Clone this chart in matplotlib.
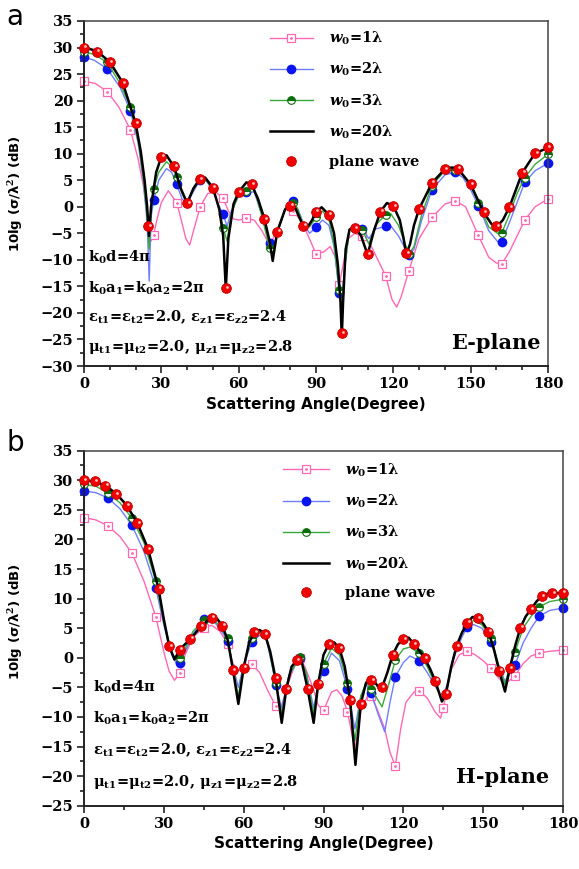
import matplotlib
matplotlib.use("Agg")
import matplotlib.pyplot as plt
from matplotlib.legend_handler import HandlerTuple
from matplotlib.ticker import MultipleLocator
from matplotlib.transforms import offset_copy

plt.rcParams['mathtext.fontset'] = 'custom'
plt.rcParams['mathtext.rm'] = 'DejaVu Serif:bold'
plt.rcParams['mathtext.it'] = 'DejaVu Serif:italic:bold'
plt.rcParams['mathtext.bf'] = 'DejaVu Serif:bold'

# ---------------- E-plane (panel a) ----------------
e_black_ang = [0, 5, 10, 15, 20, 22, 23.5, 24.5, 25.2, 26, 28, 30, 32, 35, 37.5, 40, 42.5, 45, 47, 50,
               52.5, 54, 55, 56, 58, 60, 63, 65, 67.5, 70, 72, 73.2, 75, 78, 80, 82, 85, 86.5, 88.5, 90,
               92.2, 95, 97, 98.5, 99.5, 100, 100.5, 101.5, 103, 105, 107.5, 110, 112.5, 115, 117.5, 120,
               122.5, 124, 125, 126.5, 128, 130, 135, 140, 142.5, 145, 150, 155, 158, 160, 162.5, 165,
               170, 175, 180]
e_black_db = [30.1, 29.3, 27.3, 23.4, 15.8, 10.5, 5, 0, -5.5, 0, 6.5, 9.4, 9.7, 7.5, 3.5, 0.7, 3.5, 5.3,
              5.5, 3.6, -0.5, -5.5, -15.5, -6, 0.5, 2.8, 4.6, 4.2, 1.5, -2.3, -6.5, -10.2, -4.6, -0.5,
              0.3, -0.3, -3.6, -4.0, -2.5, -0.9, -0.1, -1.5, -5, -11, -18, -24.5, -18, -8, -4.3, -3.8,
              -5.5, -9.0, -4.5, -0.9, 0.7, 0.2, -2.5, -6, -9.0, -7, -3.5, -0.4, 4.5, 7.1, 7.4, 7.2,
              4.2, -1.0, -3.2, -3.8, -2.5, -0.1, 6.4, 10.1, 11.1]

e_blue_ang = [0, 4, 9, 14, 18, 21, 23, 24.5, 25.3, 26, 27, 29, 32, 34, 36, 38, 40, 42, 45, 47, 50, 52,
              54, 55.5, 57, 60, 63, 66, 69, 72, 73.2, 75, 78, 81, 83, 85, 87.5, 90, 92.5, 95, 97, 99,
              100, 101, 103, 105, 108, 110.5, 113, 117, 119, 122, 126, 128, 131, 135, 140, 144, 147,
              150, 153, 157, 161, 162, 165, 168, 171, 175, 180]
e_blue_db = [28.2, 27.6, 26.0, 22.5, 18.1, 12, 5, -3, -14, -2, 1.2, 5, 7.2, 6.5, 4.2, 1.5, 0.5, 2.5,
             5.0, 5.2, 3.0, 0.5, -1.4, -3.7, -1, 2.0, 2.7, 2.8, -1.5, -6.9, -8, -5, -0.5, 1.1, -0.5,
             -3, -5, -3.9, -2.5, -3.5, -7.5, -16.2, -18, -12, -4.2, -3.5, -4.1, -6, -4.2, -3.7, -3.6,
             -5.5, -9.1, -8, -2.5, 3.2, 6.0, 6.5, 5.5, 3.2, 0.2, -4.5, -6.9, -6.7, -3.0, 0.8, 4.6,
             6.8, 8.2]

e_green_ang = e_blue_ang
e_green_db = [29.2, 28.7, 27.2, 23.2, 18.8, 12.5, 5.5, -2, -8, -1, 3.4, 6.5, 8.5, 7.5, 5.7, 2.5, 0.6,
              3.0, 5.2, 5.3, 3.3, 0.5, -4.0, -6.5, -1.5, 2.4, 3.0, 3.5, -1.8, -7.8, -9, -5, -0.5, 0.8,
              -0.5, -3.3, -3.8, -2.0, -0.8, -2.3, -7, -15.7, -19, -12, -4.3, -3.7, -4.4, -7, -3.5,
              -1.5, -1.3, -3.5, -8.9, -7.5, -1.5, 4.0, 6.8, 7.0, 6.0, 3.8, 0.8, -3.8, -5.2, -5.0,
              -1.5, 2.5, 5.5, 8.0, 9.9]

e_pink_ang = [0, 4.5, 9, 13.5, 18, 21, 23, 24.5, 26, 27, 28.5, 30, 32.7, 36, 38, 39.5, 41, 42.5, 45,
              48, 51, 54, 56, 58, 60, 63, 66, 69, 72, 75, 78, 81, 84, 87, 90, 93, 95.5, 97.5, 99,
              100.5, 102.5, 105, 108, 111, 114, 117, 119.5, 121.3, 123, 126, 130, 135, 140, 144, 148,
              153, 157, 160, 162, 165, 168, 171, 175, 180]
e_pink_db = [23.7, 23.2, 21.7, 18.8, 14.5, 9, 4, -1.5, -6.5, -5.3, -2, 0.8, 3.0, 0.8, -3, -6, -7.2,
             -4.5, -0.1, 2.5, 2.8, 1.6, -0.8, -2.3, -2.5, -2.2, -2.5, -4.5, -7.2, -4.5, -0.5, -0.8,
             -2.5, -5.5, -8.9, -8.5, -7.5, -9.5, -14.7, -11, -6, -5, -5.6, -7, -10, -13, -17.5,
             -18.9, -17, -12.1, -6, -2.0, 0.5, 1.15, 0, -5.4, -9.5, -10.6, -10.8, -8.5, -5.5, -2.5,
             0, 1.5]

e_pw_ang = [0, 5, 10, 15, 20, 25, 30, 35, 40, 45, 50, 55, 60, 65, 70, 75, 80, 85, 90, 95, 100, 105,
            110, 115, 120, 125, 130, 135, 140, 145, 150, 155, 160, 165, 170, 175, 180]
e_pw_db = [30.0, 29.2, 27.2, 23.3, 15.7, -3.7, 9.4, 7.6, 0.7, 5.2, 3.6, -15.3, 2.7, 4.2, -2.3, -4.7,
           0.2, -3.6, -0.9, -1.5, -23.8, -4.0, -8.9, -0.9, 0.15, -8.8, -0.4, 4.5, 7.1, 7.2, 4.2,
           -1.0, -3.7, -0.1, 6.4, 10.1, 11.2]

# ---------------- H-plane (panel b) ----------------
h_black_ang = [0, 4, 8, 12, 16, 20, 24, 28, 30, 32, 34, 36, 40, 44, 48, 50, 52, 54, 56, 58, 60, 62,
               64, 66, 68, 70, 72, 74.3, 76, 78, 80, 81.5, 84, 86.3, 88, 90, 92, 94, 96, 98, 100, 102,
               104, 106, 108.5, 111, 112, 114, 116, 118, 120, 122, 124, 126, 128, 130, 132, 134.5,
               136, 138, 140, 142, 144, 146, 148, 150, 152, 154, 156, 158.2, 160, 162, 164, 166, 168,
               170, 172, 174, 176, 180]
h_black_db = [30.0, 29.8, 29.1, 27.8, 25.8, 22.8, 18.5, 11.7, 6.5, 2.0, -0.3, 1.4, 3.2, 5.3, 6.9, 6.6,
              5.4, 3.0, -2.1, -7.8, -1.7, 2.5, 4.3, 4.7, 4.0, 1.0, -3.5, -11, -5.3, -1.5, -0.4, 0.0,
              -5.2, -11, -4.4, 0.5, 2.3, 2.6, 1.6, -1.5, -7.2, -18.1, -7.8, -4.2, -3.6, -5.2, -5.0,
              -2.5, 0.5, 2.3, 3.1, 3.4, 2.3, 1.2, -0.1, -1.8, -3.9, -7.4, -6.1, -1.5, 2.0, 4.2, 5.9,
              6.9, 6.7, 5.8, 4.4, 1.5, -2.2, -5.7, -1.8, 2.0, 5.1, 7.0, 8.2, 9.5, 10.4, 10.8, 10.9,
              11.0]

h_blue_ang = [0, 4.5, 9, 13.5, 18, 22.5, 27, 30, 33, 35, 36, 38, 41, 45, 48, 51, 54, 56, 58, 60, 63,
              66, 68.5, 71, 72, 74.3, 77, 81, 83.5, 86.3, 88, 90, 93, 96, 99, 101.8, 104, 106, 108,
              110.5, 113, 115, 117, 120, 122.5, 126, 129, 132, 134.5, 136.5, 139, 142, 144, 146.5,
              149.5, 153, 156, 158.2, 160, 162, 165, 168, 171, 175, 180]
h_blue_db = [28.2, 27.9, 27.0, 25.2, 22.4, 18, 11.8, 5.5, 0.5, -1.2, -0.8, 1.0, 4.0, 6.6, 6.5, 5.0,
             2.9, -1.5, -5.0, -1.2, 2.6, 3.8, 3.2, -2.0, -4.6, -8.5, -3, -0.1, -2.5, -8.5, -4.5, -2.3,
             0.8, -0.5, -5.2, -12, -6.5, -4.5, -6.0, -9.5, -12.5, -7.5, -3.2, -0.8, 0.3, -0.5, -2.5,
             -4.8, -6.8, -4.5, 0, 3.5, 5.2, 5.6, 5.0, 2.6, -1.5, -4.0, -2.5, -1.2, 2.5, 5.0, 7.0,
             8.0, 8.4]

h_green_ang = [0, 4.5, 9, 13.5, 18, 22.5, 27, 30, 33, 35, 36, 38, 41, 45, 48, 51, 54, 56, 58, 60, 63,
               66, 68.5, 71, 72, 74.3, 77, 81, 83.5, 86.3, 88, 90, 93, 96, 99, 101.8, 104, 106, 108,
               110, 112, 114.5, 117, 120, 122.5, 126, 129, 132, 134.5, 136.5, 139, 142, 144, 146.5,
               149.5, 153, 156, 158.2, 160, 162, 165, 168, 171, 175, 180]
h_green_db = [29.3, 29.0, 27.8, 26.2, 23.6, 19.5, 12.9, 6, 0.8, -0.4, -0.1, 1.5, 4.5, 6.4, 6.7, 5.4,
              3.3, -1.8, -6.5, -1.2, 3.3, 4.3, 3.7, -2.0, -4.3, -9.5, -3, 0.1, -2.5, -9.5, -4.0, -1.0,
              1.6, 0.5, -4.2, -14, -6.5, -4.2, -5.2, -6.8, -8.3, -4.5, -0.4, 1.5, 1.8, 0.75, -1.5,
              -4.5, -7.0, -5.0, 0.5, 4.3, 5.8, 6.3, 5.6, 3.3, -1.5, -4.5, -1.5, 1.0, 5.0, 7.0, 8.6,
              9.5, 9.9]

h_pink_ang = [0, 4.5, 9, 13.5, 18, 22.5, 27, 30, 32, 34, 36, 38, 41, 45, 48, 51, 54, 56, 58, 60, 63,
              66, 69, 72, 74, 77, 80, 81, 83, 86, 88, 90, 93, 95, 97, 99, 101.8, 104, 107, 108, 110,
              113, 115, 117, 119, 121, 124, 126, 129, 132, 134, 135, 138, 141, 144, 147, 150, 153,
              156, 158, 160, 162, 165, 168, 171, 175, 180]
h_pink_db = [23.7, 23.3, 22.3, 20.5, 17.7, 13, 6.9, 1.0, -2.3, -3.8, -2.6, 0.5, 3.5, 5.1, 5.5, 4.5,
             2.4, -1.0, -2.2, -1.8, -1.1, -2.5, -5.5, -8.1, -8.5, -4.0, -0.3, -0.1, -1.5, -5.0, -8.0,
             -8.9, -5.8, -5.4, -6.5, -9.1, -15.5, -9, -6.0, -6.5, -8.5, -12, -16, -18.3, -12, -7.5,
             -5.8, -5.6, -6.8, -9.2, -10.2, -8.5, -2.0, 0.5, 1.15, 0.5, -0.5, -1.8, -3.5, -4.3, -3.8,
             -3.0, -1.0, 0.3, 0.8, 1.1, 1.3]

h_pw_ang = [0, 4, 8, 12, 16, 20, 24, 28, 32, 36, 40, 44, 48, 52, 56, 60, 64, 68, 72, 76, 80, 84, 88,
            92, 96, 100, 104, 108, 112, 116, 120, 124, 128, 132, 136, 140, 144, 148, 152, 156, 160,
            164, 168, 172, 176, 180]
h_pw_db = [30.0, 29.8, 29.1, 27.7, 25.7, 22.7, 18.4, 11.7, 2.0, 1.4, 3.2, 5.3, 6.8, 5.4, -2.1, -1.7,
           4.3, 4.0, -3.5, -5.3, -0.4, -5.2, -4.4, 2.3, 1.6, -7.2, -7.8, -3.8, -5.0, 0.5, 3.1, 2.3,
           -0.1, -3.9, -6.1, 2.0, 5.9, 6.7, 4.4, -2.2, -1.8, 5.1, 8.2, 10.4, 10.9, 11.0]

marker_ang = [0, 9, 18, 27, 36, 45, 54, 63, 72, 81, 90, 99, 108, 117, 126, 135, 144, 153, 162, 171, 180]

labels = [r'$\mathit{w}_{0}$=1λ', r'$\mathit{w}_{0}$=2λ', r'$\mathit{w}_{0}$=3λ',
          r'$\mathit{w}_{0}$=20λ', 'plane wave']

PINK = '#ff69b4'
BLUE_L = '#6f7dff'
BLUE_M = '#0a14f0'
GREEN_L = '#3aa83a'
GREEN_M = '#0b6e0b'
RED = '#f00000'
SERIF = 'DejaVu Serif'
SANS = 'DejaVu Sans'


def marks(ang):
    return [i for i, a in enumerate(ang) if a in marker_ang]


def panel(ax, pink, blue, green, black, pw, ylim, xminor, annot_x, annot_y, plane, plane_xy,
          leg_anchor, handlelen):
    p_ang, p_db = pink
    kw = dict(clip_on=False)
    lp, = ax.plot(p_ang, p_db, color=PINK, lw=1.0, marker='s', ms=5.5, mfc='white', mec=PINK, mew=0.9,
                  markevery=marks(p_ang), **kw)
    lpd, = ax.plot(p_ang, p_db, ls='none', marker='.', ms=2, color=PINK, markevery=marks(p_ang), **kw)
    b_ang, b_db = blue
    lb, = ax.plot(b_ang, b_db, color=BLUE_L, lw=1.0, marker='o', ms=6, mfc=BLUE_M, mec=BLUE_M,
                  markevery=marks(b_ang), **kw)
    g_ang, g_db = green
    lg, = ax.plot(g_ang, g_db, color=GREEN_L, lw=1.0, marker='o', ms=5.5, fillstyle='top',
                  mfc=GREEN_M, mfcalt='white', mec=GREEN_M, mew=0.8, markevery=marks(g_ang), **kw)
    k_ang, k_db = black
    lk, = ax.plot(k_ang, k_db, color='black', lw=1.8, zorder=3)
    r_ang, r_db = pw
    lr, = ax.plot(r_ang, r_db, ls='none', marker='o', ms=7, mfc=RED, mec='#c00000', mew=0.6,
                  zorder=4, **kw)
    shine = offset_copy(ax.transData, fig=ax.figure, x=1.0, y=1.0, units='points')
    ax.plot(r_ang, r_db, ls='none', marker='o', ms=2, mfc='#ffc0c0', mec='none', zorder=5,
            transform=shine, **kw)

    ax.set_xlim(0, 180)
    ax.set_ylim(*ylim)
    ax.xaxis.set_major_locator(MultipleLocator(30))
    ax.xaxis.set_minor_locator(MultipleLocator(xminor))
    ax.yaxis.set_major_locator(MultipleLocator(5))
    ax.yaxis.set_minor_locator(MultipleLocator(2.5))
    ax.tick_params(which='both', direction='out', top=False, right=False, width=1.2, color='#222222')
    ax.tick_params(which='major', length=5, labelsize=10.5, pad=3)
    ax.tick_params(which='minor', length=3)
    for lab in ax.get_xticklabels() + ax.get_yticklabels():
        lab.set_fontfamily(SERIF)
        lab.set_fontweight('bold')
    for side in ['left', 'bottom']:
        ax.spines[side].set_linewidth(1.4)
        ax.spines[side].set_color('#222222')
    for side in ['top', 'right']:
        ax.spines[side].set_linewidth(1.1)
        ax.spines[side].set_color('#444444')

    ax.set_xlabel('Scattering Angle(Degree)', fontfamily=SANS, fontweight='bold', fontsize=11,
                  labelpad=4)
    ax.set_ylabel(r'10lg (σ/λ$^{2}$) (dB)', fontfamily=SANS, fontweight='bold', fontsize=9.5)

    texts = [r'$\mathrm{k_{0}}$d=4π',
             r'$\mathrm{k_{0}a_{1}}$=$\mathrm{k_{0}a_{2}}$=2π',
             r'$\mathrm{ε_{t1}}$=$\mathrm{ε_{t2}}$=2.0, $\mathrm{ε_{z1}}$=$\mathrm{ε_{z2}}$=2.4',
             r'$\mathrm{μ_{t1}}$=$\mathrm{μ_{t2}}$=2.0, $\mathrm{μ_{z1}}$=$\mathrm{μ_{z2}}$=2.8']
    for t, y in zip(texts, annot_y):
        ax.text(annot_x, y, t, transform=ax.transAxes, fontfamily=SERIF, fontweight='bold',
                fontsize=10.5, va='center', ha='left')
    ax.text(plane_xy[0], plane_xy[1], plane, transform=ax.transAxes, fontfamily=SERIF,
            fontweight='bold', fontsize=15, ha='right', va='center')

    leg = ax.legend([(lp, lpd), lb, lg, lk, lr], labels,
                    handler_map={tuple: HandlerTuple(ndivide=1, pad=0)},
                    loc='upper left', bbox_to_anchor=leg_anchor, frameon=False, borderpad=0,
                    borderaxespad=0, handlelength=handlelen, handletextpad=1.1, labelspacing=0.95,
                    prop=dict(family=SERIF, weight='bold', size=10.5))
    return leg


fig = plt.figure(figsize=(5.79, 8.69), dpi=100)
ax1 = fig.add_axes([84 / 579, 1 - 366 / 869, 464 / 579, 345 / 869])
ax2 = fig.add_axes([84 / 579, 1 - 805.7 / 869, 479 / 579, 355 / 869])

panel(ax1, (e_pink_ang, e_pink_db), (e_blue_ang, e_blue_db), (e_green_ang, e_green_db),
      (e_black_ang, e_black_db), (e_pw_ang, e_pw_db), (-30, 35), 10, 0.009,
      [0.316, 0.226, 0.142, 0.055], 'E-plane', (0.985, 0.067), (0.40, 0.975), 3.0)
ax1.yaxis.set_label_coords(-0.127, 0.5)

panel(ax2, (h_pink_ang, h_pink_db), (h_blue_ang, h_blue_db), (h_green_ang, h_green_db),
      (h_black_ang, h_black_db), (h_pw_ang, h_pw_db), (-25, 35), 15, 0.019,
      [0.334, 0.247, 0.157, 0.067], 'H-plane', (0.971, 0.081), (0.415, 0.97), 3.2)
ax2.yaxis.set_label_coords(-0.123, 0.52)

fig.text(15 / 579, 1 - 17 / 869, 'a', fontfamily=SANS, fontsize=20, ha='center', va='center')
fig.text(15 / 579, 1 - 443 / 869, 'b', fontfamily=SANS, fontsize=20, ha='center', va='center')

fig.savefig('out.png', dpi=100)
